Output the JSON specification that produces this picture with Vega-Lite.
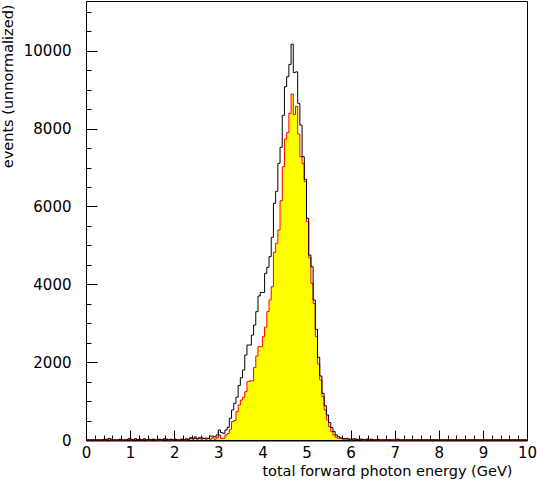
{
  "$schema": "https://vega.github.io/schema/vega-lite/v6.json",
  "width": 441,
  "height": 439,
  "autosize": {"type": "none"},
  "padding": {"left": 86, "top": 1, "right": 10, "bottom": 45},
  "background": "white",
  "config": {
    "font": "DejaVu Sans",
    "view": {"stroke": "black", "strokeWidth": 1},
    "axis": {
      "grid": false,
      "domainColor": "black",
      "tickColor": "black",
      "labelColor": "black",
      "titleColor": "black",
      "labelFont": "DejaVu Sans",
      "titleFont": "DejaVu Sans",
      "labelFontSize": 15,
      "titleFontSize": 14.5,
      "titleFontWeight": "normal",
      "labelFlush": false,
      "labelOverlap": false,
      "labelBound": false
    }
  },
  "data": {
    "values": [
      {"e":0,"a":0,"s":0},{"e":0.05,"a":0,"s":0},{"e":0.1,"a":0,"s":0},{"e":0.15,"a":0,"s":0},
      {"e":0.2,"a":0,"s":0},{"e":0.25,"a":0,"s":0},{"e":0.3,"a":0,"s":0},{"e":0.35,"a":0,"s":0},
      {"e":0.4,"a":20,"s":0},{"e":0.45,"a":0,"s":20},{"e":0.5,"a":40,"s":30},{"e":0.55,"a":20,"s":0},
      {"e":0.6,"a":0,"s":0},{"e":0.65,"a":0,"s":0},{"e":0.7,"a":0,"s":0},{"e":0.75,"a":20,"s":0},
      {"e":0.8,"a":0,"s":0},{"e":0.85,"a":0,"s":0},{"e":0.9,"a":0,"s":0},{"e":0.95,"a":30,"s":30},
      {"e":1,"a":20,"s":0},{"e":1.05,"a":0,"s":0},{"e":1.1,"a":30,"s":30},{"e":1.15,"a":0,"s":0},
      {"e":1.2,"a":20,"s":20},{"e":1.25,"a":0,"s":0},{"e":1.3,"a":30,"s":20},{"e":1.35,"a":0,"s":0},
      {"e":1.4,"a":20,"s":0},{"e":1.45,"a":0,"s":0},{"e":1.5,"a":20,"s":20},{"e":1.55,"a":0,"s":0},
      {"e":1.6,"a":0,"s":0},{"e":1.65,"a":20,"s":0},{"e":1.7,"a":0,"s":0},{"e":1.75,"a":30,"s":20},
      {"e":1.8,"a":20,"s":20},{"e":1.85,"a":0,"s":0},{"e":1.9,"a":20,"s":0},{"e":1.95,"a":0,"s":0},
      {"e":2,"a":20,"s":20},{"e":2.05,"a":0,"s":0},{"e":2.1,"a":0,"s":0},{"e":2.15,"a":20,"s":20},
      {"e":2.2,"a":0,"s":0},{"e":2.25,"a":30,"s":0},{"e":2.3,"a":20,"s":20},{"e":2.35,"a":60,"s":40},
      {"e":2.4,"a":40,"s":20},{"e":2.45,"a":80,"s":40},{"e":2.5,"a":40,"s":20},{"e":2.55,"a":60,"s":40},
      {"e":2.6,"a":60,"s":20},{"e":2.65,"a":40,"s":40},{"e":2.7,"a":50,"s":20},{"e":2.75,"a":40,"s":40},
      {"e":2.8,"a":100,"s":20},{"e":2.85,"a":100,"s":60},{"e":2.9,"a":80,"s":20},{"e":2.95,"a":130,"s":60},
      {"e":3,"a":257,"s":130},{"e":3.05,"a":190,"s":40},{"e":3.1,"a":171,"s":43},{"e":3.15,"a":257,"s":130},
      {"e":3.2,"a":325,"s":171},{"e":3.25,"a":557,"s":274},{"e":3.3,"a":771,"s":471},{"e":3.35,"a":942,"s":497},
      {"e":3.4,"a":1100,"s":728},{"e":3.45,"a":1400,"s":899},{"e":3.5,"a":1600,"s":1027},{"e":3.55,"a":1798,"s":1096},
      {"e":3.6,"a":2184,"s":1242},{"e":3.65,"a":2440,"s":1498},{"e":3.7,"a":2440,"s":1520},{"e":3.75,"a":2697,"s":1520},
      {"e":3.8,"a":2954,"s":1862},{"e":3.85,"a":3297,"s":2158},{"e":3.9,"a":3700,"s":2398},{"e":3.95,"a":3790,"s":2398},
      {"e":4,"a":3790,"s":2655},{"e":4.05,"a":4282,"s":2900},{"e":4.1,"a":4437,"s":3300},{"e":4.15,"a":4710,"s":3600},
      {"e":4.2,"a":5207,"s":3939},{"e":4.25,"a":6081,"s":4821},{"e":4.3,"a":6390,"s":5053},{"e":4.35,"a":7108,"s":5395},
      {"e":4.4,"a":7520,"s":6148},{"e":4.45,"a":8342,"s":7022},{"e":4.5,"a":9077,"s":7733},{"e":4.55,"a":9334,"s":7900},
      {"e":4.6,"a":9651,"s":8393},{"e":4.65,"a":10170,"s":8890},{"e":4.7,"a":9440,"s":8360},{"e":4.75,"a":9460,"s":8570},
      {"e":4.8,"a":8650,"s":7860},{"e":4.85,"a":8092,"s":7280},{"e":4.9,"a":7279,"s":7100},{"e":4.95,"a":6700,"s":6640},
      {"e":5,"a":5700,"s":5610},{"e":5.05,"a":4750,"s":4680},{"e":5.1,"a":4452,"s":4025},{"e":5.15,"a":3597,"s":3510},
      {"e":5.2,"a":2843,"s":2654},{"e":5.25,"a":2124,"s":1953},{"e":5.3,"a":1644,"s":1541},{"e":5.35,"a":1200,"s":1113},
      {"e":5.4,"a":882,"s":770},{"e":5.45,"a":642,"s":514},{"e":5.5,"a":450,"s":343},{"e":5.55,"a":317,"s":214},
      {"e":5.6,"a":214,"s":128},{"e":5.65,"a":130,"s":68},{"e":5.7,"a":86,"s":40},{"e":5.75,"a":60,"s":40},
      {"e":5.8,"a":40,"s":20},{"e":5.85,"a":30,"s":30},{"e":5.9,"a":40,"s":20},{"e":5.95,"a":20,"s":20},
      {"e":6,"a":20,"s":0},{"e":6.05,"a":30,"s":20},{"e":6.1,"a":20,"s":20},{"e":6.15,"a":0,"s":20},
      {"e":6.2,"a":20,"s":20},{"e":6.25,"a":20,"s":0},{"e":6.3,"a":0,"s":0},{"e":6.35,"a":20,"s":20},
      {"e":6.4,"a":0,"s":0},{"e":6.45,"a":20,"s":20},{"e":6.5,"a":0,"s":0},{"e":6.55,"a":0,"s":0},
      {"e":6.6,"a":20,"s":0},{"e":6.65,"a":0,"s":0},{"e":6.7,"a":0,"s":0},{"e":6.75,"a":0,"s":0},
      {"e":6.8,"a":0,"s":0},{"e":6.85,"a":0,"s":0},{"e":6.9,"a":0,"s":0},{"e":6.95,"a":0,"s":0},
      {"e":7,"a":0,"s":0},{"e":7.05,"a":20,"s":0},{"e":7.1,"a":0,"s":0},{"e":7.15,"a":0,"s":0},
      {"e":7.2,"a":0,"s":0},{"e":7.25,"a":0,"s":0},{"e":7.3,"a":0,"s":0},{"e":7.35,"a":0,"s":0},
      {"e":7.4,"a":0,"s":0},{"e":7.45,"a":0,"s":0},{"e":7.5,"a":0,"s":0},{"e":7.55,"a":0,"s":0},
      {"e":7.6,"a":0,"s":0},{"e":7.65,"a":0,"s":0},{"e":7.7,"a":0,"s":0},{"e":7.75,"a":0,"s":0},
      {"e":7.8,"a":0,"s":0},{"e":7.85,"a":0,"s":0},{"e":7.9,"a":0,"s":0},{"e":7.95,"a":0,"s":0},
      {"e":8,"a":0,"s":0},{"e":8.05,"a":0,"s":0},{"e":8.1,"a":0,"s":0},{"e":8.15,"a":0,"s":0},
      {"e":8.2,"a":0,"s":0},{"e":8.25,"a":0,"s":0},{"e":8.3,"a":0,"s":0},{"e":8.35,"a":0,"s":0},
      {"e":8.4,"a":0,"s":0},{"e":8.45,"a":0,"s":0},{"e":8.5,"a":0,"s":0},{"e":8.55,"a":0,"s":0},
      {"e":8.6,"a":0,"s":0},{"e":8.65,"a":0,"s":0},{"e":8.7,"a":0,"s":0},{"e":8.75,"a":0,"s":0},
      {"e":8.8,"a":0,"s":0},{"e":8.85,"a":0,"s":0},{"e":8.9,"a":0,"s":0},{"e":8.95,"a":0,"s":0},
      {"e":9,"a":0,"s":0},{"e":9.05,"a":0,"s":0},{"e":9.1,"a":0,"s":0},{"e":9.15,"a":0,"s":0},
      {"e":9.2,"a":0,"s":0},{"e":9.25,"a":0,"s":0},{"e":9.3,"a":0,"s":0},{"e":9.35,"a":0,"s":0},
      {"e":9.4,"a":0,"s":0},{"e":9.45,"a":0,"s":0},{"e":9.5,"a":0,"s":0},{"e":9.55,"a":0,"s":0},
      {"e":9.6,"a":0,"s":0},{"e":9.65,"a":0,"s":0},{"e":9.7,"a":0,"s":0},{"e":9.75,"a":0,"s":0},
      {"e":9.8,"a":0,"s":0},{"e":9.85,"a":0,"s":0},{"e":9.9,"a":0,"s":0},{"e":9.95,"a":0,"s":0},
      {"e":10,"a":0,"s":0}
    ]
  },
  "resolve": {"axis": {"x": "independent", "y": "independent"}},
  "layer": [
    {
      "mark": {"type": "area", "interpolate": "step-after", "color": "#ffff00", "opacity": 1},
      "encoding": {
        "x": {
          "field": "e", "type": "quantitative",
          "scale": {"domain": [0, 10], "nice": false},
          "axis": {
            "orient": "bottom",
            "title": "total forward photon energy (GeV)",
            "values": [0, 1, 2, 3, 4, 5, 6, 7, 8, 9, 10],
            "format": "d",
            "tickSize": -10,
            "labelPadding": 15,
            "labelBaseline": "top",
            "domainWidth": 2,
            "titleAnchor": "end",
            "titleAlign": "right",
            "titleBaseline": "top",
            "titleX": 426,
            "titleY": 24
          }
        },
        "y": {
          "field": "s", "type": "quantitative",
          "scale": {"domain": [0, 11280], "nice": false},
          "axis": {
            "orient": "left",
            "title": "events (unnormalized)",
            "values": [0, 2000, 4000, 6000, 8000, 10000],
            "format": "d",
            "tickSize": -11,
            "labelPadding": 26,
            "titleAnchor": "end",
            "titleAlign": "right",
            "titleBaseline": "top",
            "titleAngle": 270,
            "titleX": -85,
            "titleY": 3
          }
        }
      }
    },
    {
      "mark": {"type": "line", "interpolate": "step-after", "color": "#ff0000", "strokeWidth": 1},
      "encoding": {
        "x": {
          "field": "e", "type": "quantitative",
          "axis": {
            "orient": "bottom", "title": null, "labels": false, "domain": false,
            "tickSize": -5,
            "values": [0.2, 0.4, 0.6, 0.8, 1.2, 1.4, 1.6, 1.8, 2.2, 2.4, 2.6, 2.8, 3.2, 3.4, 3.6, 3.8, 4.2, 4.4, 4.6, 4.8, 5.2, 5.4, 5.6, 5.8, 6.2, 6.4, 6.6, 6.8, 7.2, 7.4, 7.6, 7.8, 8.2, 8.4, 8.6, 8.8, 9.2, 9.4, 9.6, 9.8]
          }
        },
        "y": {
          "field": "s", "type": "quantitative",
          "axis": {
            "orient": "left", "title": null, "labels": false, "domain": false,
            "tickSize": -5,
            "values": [500, 1000, 1500, 2500, 3000, 3500, 4500, 5000, 5500, 6500, 7000, 7500, 8500, 9000, 9500, 10500, 11000]
          }
        }
      }
    },
    {
      "mark": {"type": "line", "interpolate": "step-after", "color": "black", "strokeWidth": 1},
      "encoding": {
        "x": {"field": "e", "type": "quantitative", "axis": null},
        "y": {"field": "a", "type": "quantitative", "axis": null}
      }
    }
  ]
}
